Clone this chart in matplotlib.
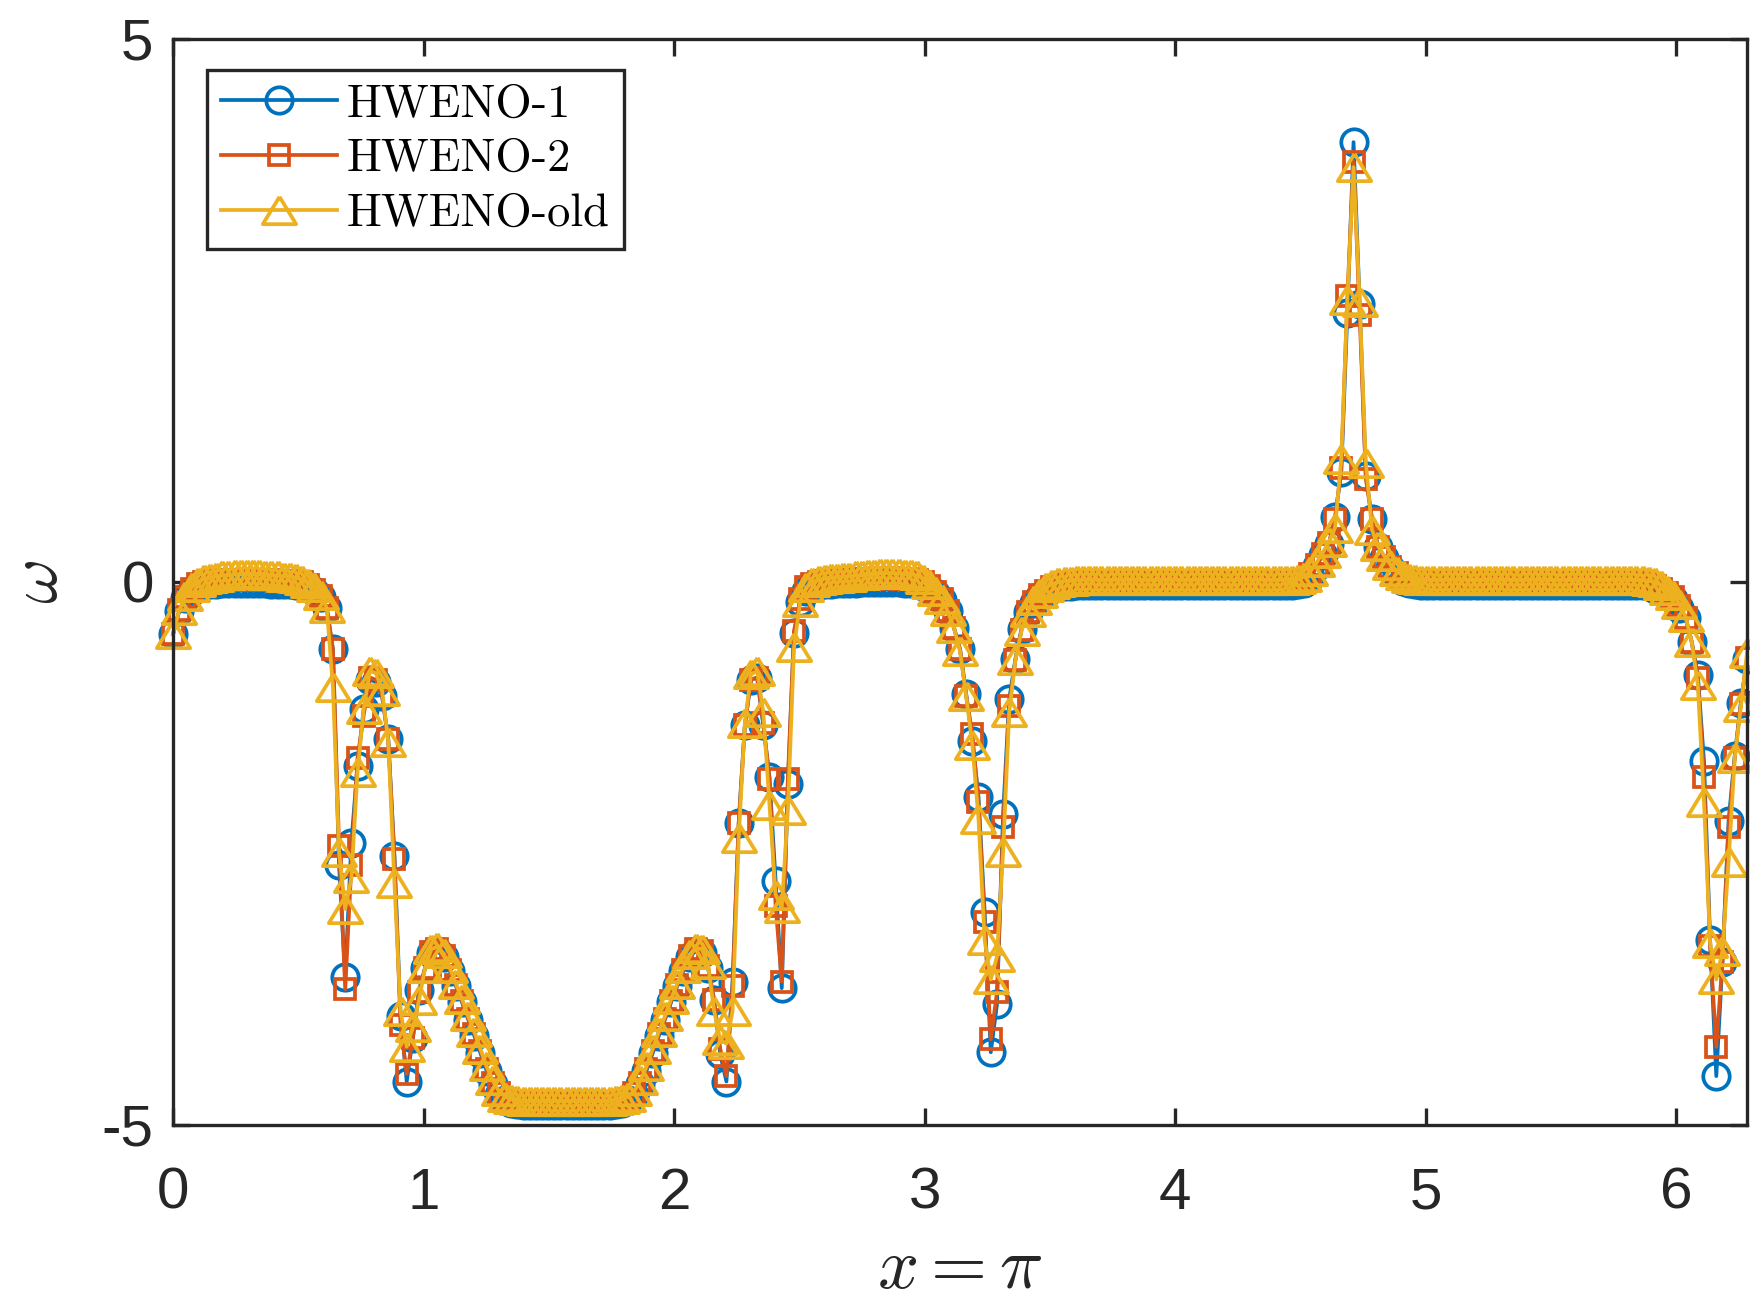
import numpy as np
import matplotlib
matplotlib.use("Agg")
import matplotlib.pyplot as plt
from matplotlib.markers import MarkerStyle

#%% data: slice x = pi, 256 cells on [0, 2pi]
n_cells = 256
x = np.linspace(0, 2 * np.pi, n_cells + 1)

hweno_1 = [
    -0.48, -0.27, -0.15, -0.08, -0.05, -0.03, -0.02, -0.02, -0.01, -0.01, -0.01, -0.01, -0.01, -0.01, -0.01, -0.01,
    -0.02, -0.02, -0.02, -0.02, -0.03, -0.03, -0.05, -0.08, -0.14, -0.24, -0.62, -2.61, -3.64, -2.40, -1.69, -1.17,
    -0.90, -0.92, -1.05, -1.45, -2.52, -4.00, -4.60, -4.20, -3.76, -3.55, -3.42, -3.40, -3.45, -3.58, -3.72, -3.87,
    -4.03, -4.18, -4.34, -4.50, -4.62, -4.72, -4.77, -4.80, -4.81, -4.82, -4.82, -4.82, -4.82, -4.82, -4.82, -4.82,
    -4.82, -4.82, -4.82, -4.82, -4.82, -4.82, -4.82, -4.82, -4.81, -4.80, -4.77, -4.72, -4.62, -4.50, -4.34, -4.18,
    -4.03, -3.87, -3.72, -3.58, -3.45, -3.40, -3.42, -3.55, -3.85, -4.35, -4.60, -3.68, -2.22, -1.32, -0.90, -0.88,
    -1.32, -1.80, -2.75, -3.74, -1.86, -0.47, -0.18, -0.08, -0.05, -0.03, -0.02, -0.02, -0.01, -0.01, -0.01, -0.01,
    0.00, 0.00, 0.00, 0.00, 0.00, 0.00, 0.00, -0.01, -0.01, -0.02, -0.04, -0.06, -0.10, -0.17, -0.27, -0.42,
    -0.62, -1.03, -1.46, -1.98, -3.04, -4.33, -3.89, -2.14, -1.08, -0.71, -0.43, -0.28, -0.19, -0.13, -0.09, -0.06,
    -0.05, -0.04, -0.04, -0.03, -0.03, -0.03, -0.03, -0.03, -0.03, -0.03, -0.03, -0.03, -0.03, -0.03, -0.03, -0.03,
    -0.03, -0.03, -0.03, -0.03, -0.03, -0.03, -0.03, -0.03, -0.03, -0.03, -0.03, -0.03, -0.03, -0.03, -0.03, -0.03,
    -0.03, -0.03, -0.03, -0.03, -0.03, -0.03, -0.03, -0.02, -0.01, 0.05, 0.15, 0.25, 0.35, 0.60, 1.01, 2.48,
    4.05, 2.56, 0.98, 0.58, 0.32, 0.22, 0.13, 0.06, 0.01, -0.01, -0.02, -0.03, -0.03, -0.03, -0.03, -0.03,
    -0.03, -0.03, -0.03, -0.03, -0.03, -0.03, -0.03, -0.03, -0.03, -0.03, -0.03, -0.03, -0.03, -0.03, -0.03, -0.03,
    -0.03, -0.03, -0.03, -0.03, -0.03, -0.03, -0.03, -0.03, -0.03, -0.03, -0.03, -0.03, -0.03, -0.03, -0.03, -0.03,
    -0.04, -0.06, -0.08, -0.12, -0.16, -0.24, -0.33, -0.55, -0.86, -1.65, -3.30, -4.55, -3.50, -2.20, -1.60, -1.11,
    -0.71]

hweno_2 = [
    -0.48, -0.26, -0.14, -0.06, -0.02, 0.00, 0.01, 0.01, 0.02, 0.02, 0.02, 0.02, 0.02, 0.02, 0.02, 0.02,
    0.02, 0.01, 0.01, 0.01, 0.00, 0.00, -0.03, -0.07, -0.13, -0.24, -0.62, -2.43, -3.75, -2.61, -1.62, -1.23,
    -0.88, -0.90, -1.05, -1.45, -2.55, -4.08, -4.53, -4.20, -3.78, -3.55, -3.41, -3.38, -3.44, -3.57, -3.71, -3.86,
    -4.02, -4.16, -4.32, -4.48, -4.61, -4.71, -4.76, -4.78, -4.79, -4.80, -4.80, -4.80, -4.80, -4.80, -4.80, -4.80,
    -4.80, -4.80, -4.80, -4.80, -4.80, -4.80, -4.80, -4.80, -4.79, -4.78, -4.76, -4.71, -4.61, -4.48, -4.32, -4.16,
    -4.02, -3.86, -3.71, -3.57, -3.44, -3.38, -3.40, -3.54, -3.85, -4.30, -4.55, -3.72, -2.22, -1.32, -0.90, -0.88,
    -1.30, -1.81, -2.98, -3.68, -1.81, -0.45, -0.16, -0.05, -0.02, 0.00, 0.01, 0.01, 0.02, 0.02, 0.02, 0.03,
    0.03, 0.03, 0.03, 0.04, 0.04, 0.04, 0.03, 0.03, 0.03, 0.02, 0.00, -0.04, -0.09, -0.16, -0.27, -0.42,
    -0.62, -1.05, -1.40, -2.03, -3.13, -4.21, -3.78, -2.26, -1.14, -0.72, -0.44, -0.28, -0.18, -0.12, -0.08, -0.05,
    -0.04, -0.03, -0.01, -0.01, -0.01, -0.01, -0.01, -0.01, -0.01, -0.01, -0.01, -0.01, -0.01, -0.01, -0.01, -0.01,
    -0.01, -0.01, -0.01, -0.01, -0.01, -0.01, -0.01, -0.01, -0.01, -0.01, -0.01, -0.01, -0.01, -0.01, -0.01, -0.01,
    -0.01, -0.01, -0.01, -0.01, -0.01, -0.01, -0.01, 0.00, 0.01, 0.07, 0.16, 0.26, 0.36, 0.58, 1.05, 2.63,
    3.87, 2.46, 0.95, 0.58, 0.32, 0.23, 0.14, 0.08, 0.03, 0.00, -0.01, -0.01, -0.01, -0.01, -0.01, -0.01,
    -0.01, -0.01, -0.01, -0.01, -0.01, -0.01, -0.01, -0.01, -0.01, -0.01, -0.01, -0.01, -0.01, -0.01, -0.01, -0.01,
    -0.01, -0.01, -0.01, -0.01, -0.01, -0.01, -0.01, -0.01, -0.01, -0.01, -0.01, -0.01, -0.01, -0.01, -0.01, -0.01,
    -0.02, -0.04, -0.06, -0.10, -0.14, -0.22, -0.33, -0.55, -0.88, -1.80, -3.35, -4.28, -3.50, -2.26, -1.62, -1.12,
    -0.70]

hweno_old = [
    -0.48, -0.26, -0.13, -0.05, 0.00, 0.03, 0.04, 0.05, 0.06, 0.06, 0.07, 0.07, 0.07, 0.07, 0.07, 0.06,
    0.06, 0.06, 0.05, 0.05, 0.04, 0.02, -0.01, -0.05, -0.12, -0.24, -0.97, -2.49, -3.01, -2.73, -1.75, -1.17,
    -0.82, -0.84, -1.00, -1.47, -2.77, -3.95, -4.28, -4.10, -3.85, -3.55, -3.38, -3.36, -3.42, -3.55, -3.70, -3.84,
    -4.00, -4.14, -4.30, -4.46, -4.59, -4.69, -4.74, -4.76, -4.77, -4.78, -4.78, -4.78, -4.78, -4.78, -4.78, -4.78,
    -4.78, -4.78, -4.78, -4.78, -4.78, -4.78, -4.78, -4.78, -4.77, -4.76, -4.74, -4.69, -4.59, -4.46, -4.30, -4.14,
    -4.00, -3.84, -3.70, -3.55, -3.43, -3.37, -3.38, -3.52, -3.95, -4.22, -4.25, -3.95, -2.36, -1.30, -0.85, -0.82,
    -1.20, -2.05, -2.88, -3.00, -2.10, -0.60, -0.18, -0.05, 0.00, 0.02, 0.03, 0.04, 0.04, 0.05, 0.05, 0.06,
    0.06, 0.07, 0.07, 0.08, 0.08, 0.08, 0.08, 0.07, 0.07, 0.06, 0.03, -0.02, -0.08, -0.16, -0.27, -0.42,
    -0.64, -1.05, -1.50, -2.18, -3.30, -3.66, -3.45, -2.49, -1.20, -0.72, -0.45, -0.28, -0.17, -0.10, -0.05, -0.02,
    0.00, 0.01, 0.01, 0.02, 0.02, 0.02, 0.02, 0.02, 0.02, 0.02, 0.02, 0.02, 0.02, 0.02, 0.02, 0.02,
    0.02, 0.02, 0.02, 0.02, 0.02, 0.02, 0.02, 0.02, 0.02, 0.02, 0.02, 0.02, 0.02, 0.02, 0.02, 0.02,
    0.02, 0.02, 0.02, 0.02, 0.02, 0.02, 0.02, 0.03, 0.05, 0.10, 0.18, 0.27, 0.37, 0.50, 1.13, 2.60,
    3.82, 2.58, 1.10, 0.48, 0.33, 0.24, 0.16, 0.10, 0.06, 0.04, 0.03, 0.02, 0.02, 0.02, 0.02, 0.02,
    0.02, 0.02, 0.02, 0.02, 0.02, 0.02, 0.02, 0.02, 0.02, 0.02, 0.02, 0.02, 0.02, 0.02, 0.02, 0.02,
    0.02, 0.02, 0.02, 0.02, 0.02, 0.02, 0.02, 0.02, 0.02, 0.02, 0.02, 0.02, 0.02, 0.02, 0.02, 0.02,
    0.01, 0.00, -0.03, -0.07, -0.12, -0.20, -0.32, -0.55, -0.95, -2.03, -3.32, -3.66, -3.40, -2.58, -1.62, -1.15,
    -0.65]

labels = ['HWENO-1', 'HWENO-2', 'HWENO-old']
colors = ['#0072BD', '#D95319', '#EDB120']

#%% style
plt.rcParams['font.family'] = ['Liberation Sans', 'DejaVu Sans']
plt.rcParams['mathtext.fontset'] = 'cm'
axis_color = '#262626'

fig = plt.figure(figsize=(17.5, 13.13), dpi=100)
ax = fig.add_axes([0.0989, 0.1432, 0.8994, 0.8271])

# matlab-like flat triangle
tri = MarkerStyle([(0, 0.82), (-1, -0.82), (1, -0.82), (0, 0.82)], joinstyle='miter')

ax.plot(x, hweno_1, '-', marker='o', ms=19, mfc='none', mew=2.7,
        color=colors[0], lw=2.7, label=labels[0], clip_on=False)
ax.plot(x, hweno_2, '-', marker='s', ms=15, mfc='none', mew=2.7,
        color=colors[1], lw=2.7, label=labels[1], clip_on=False)
ax.plot(x, hweno_old, '-', marker=tri, ms=24, mfc='none', mew=2.7,
        color=colors[2], lw=2.7, label=labels[2], clip_on=False)

ax.set_xlim(0, 2 * np.pi)
ax.set_ylim(-5, 5)
ax.set_xticks([0, 1, 2, 3, 4, 5, 6])
ax.set_yticks([-5, 0, 5])
ax.set_yticklabels(['-5', '0', '5'])

for s in ax.spines.values():
    s.set_linewidth(2.4)
    s.set_color(axis_color)
ax.tick_params(direction='in', top=True, right=True, length=12, width=2.4,
               colors=axis_color, labelsize=42)
ax.tick_params(axis='x', pad=30)
ax.tick_params(axis='y', pad=14)

ax.set_xlabel(r'$x=\pi$', fontsize=52, color=axis_color)
ax.xaxis.label.set_va('center')
ax.xaxis.set_label_coords(0.5, -0.133)
ax.set_ylabel(r'$\omega$', fontsize=50, color=axis_color, rotation=90)
ax.yaxis.label.set_va('center')
ax.yaxis.set_label_coords(-0.085, 0.5)

leg = ax.legend(loc='upper left', bbox_to_anchor=(0.0213, 0.9715), borderaxespad=0,
                prop={'family': 'cmr10', 'size': 33.5}, frameon=True, fancybox=False,
                edgecolor=axis_color, framealpha=1, handlelength=2.5,
                handletextpad=0.22, labelspacing=0.28, borderpad=0.3)
leg.get_frame().set_linewidth(2.4)

fig.savefig('out.png', dpi=100)
